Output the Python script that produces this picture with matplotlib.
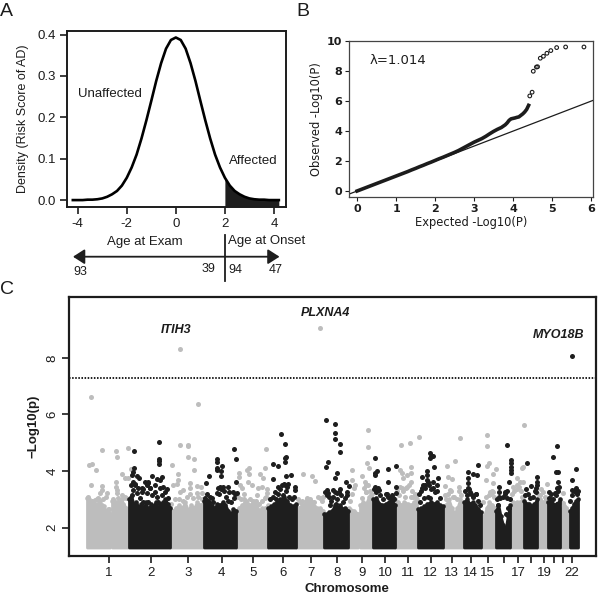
import numpy as np
import matplotlib
matplotlib.use('Agg')
import matplotlib.pyplot as plt

plt.rcParams['font.family'] = ['Liberation Sans', 'DejaVu Sans']
plt.rcParams['axes.unicode_minus'] = False

W, H = 600, 597
DARK = '#1c1c1c'
GREY = '#bdbdbd'
BLACK = '#1e1e1e'

# Panel A: density curve
risk_score = [-4.2, -4.0, -3.8, -3.6, -3.4, -3.2, -3.0, -2.8, -2.6, -2.4, -2.2, -2.0, -1.8, -1.6, -1.4, -1.2, -1.0,
              -0.8, -0.6, -0.4, -0.2, 0.0, 0.2, 0.4, 0.6, 0.8, 1.0, 1.2, 1.4, 1.6, 1.8, 2.0, 2.2, 2.4, 2.6, 2.8,
              3.0, 3.2, 3.4, 3.6, 3.8, 4.0, 4.2]
density = [0.000, 0.000, 0.000, 0.001, 0.001, 0.002, 0.004, 0.008, 0.014, 0.022, 0.035, 0.054, 0.079, 0.110, 0.149,
           0.193, 0.240, 0.288, 0.331, 0.366, 0.387, 0.393, 0.387, 0.366, 0.331, 0.288, 0.240, 0.193, 0.149, 0.110,
           0.079, 0.054, 0.035, 0.022, 0.014, 0.008, 0.004, 0.002, 0.001, 0.001, 0.000, 0.000, 0.000]

# Panel B: QQ plot
qq_expected = [0.0, 0.1, 0.2, 0.3, 0.4, 0.5, 0.6, 0.7, 0.8, 0.9, 1.0, 1.1, 1.2, 1.3, 1.4, 1.5, 1.6, 1.7, 1.8, 1.9,
               2.0, 2.1, 2.2, 2.3, 2.4, 2.5, 2.6, 2.7, 2.8, 2.9, 3.0, 3.1, 3.2, 3.3, 3.4, 3.5, 3.6, 3.7, 3.8, 3.85,
               3.9, 3.95, 4.0, 4.05, 4.1, 4.15, 4.2, 4.25, 4.3, 4.35, 4.4]
qq_observed = [0.0, 0.1, 0.2, 0.3, 0.4, 0.5, 0.6, 0.7, 0.8, 0.9, 1.0, 1.1, 1.2, 1.3, 1.41, 1.51, 1.62, 1.72, 1.83,
               1.93, 2.04, 2.15, 2.25, 2.36, 2.47, 2.58, 2.7, 2.84, 2.98, 3.12, 3.26, 3.38, 3.5, 3.65, 3.82, 3.98,
               4.12, 4.24, 4.42, 4.55, 4.72, 4.82, 4.85, 4.88, 4.92, 4.95, 5.05, 5.15, 5.28, 5.45, 5.72]
qq_top_expected = [4.43, 4.49, 4.52, 4.60, 4.63, 4.70, 4.78, 4.87, 4.97, 5.12, 5.35, 5.82]
qq_top_observed = [6.35, 6.60, 8.00, 8.28, 8.30, 8.87, 9.00, 9.20, 9.38, 9.58, 9.62, 9.62]

# Panel C: chromosome ticks
chrom_ticks = [108.7, 150.7, 188, 221.7, 252.7, 283, 311, 336.7, 361.7, 385, 407.7, 430.7, 451.7, 470.7, 487.7, 504,
               518, 531, 544, 554, 563, 572]
chrom_labels = ['1', '2', '3', '4', '5', '6', '7', '8', '9', '10', '11', '12', '13', '14', '15', '', '17', '', '19',
                '', '', '22']

# top of the solid mass for each chromosome: start, end, heights along it
grey_mass = [
    (87, 110, [3.05, 3.0, 2.85, 2.9, 2.8, 2.85, 2.95, 2.8, 2.75, 2.6, 2.65, 2.5]),
    (112, 128, [2.95, 2.95, 2.9, 2.9, 2.95, 2.85, 2.7, 2.6]),
    (170, 203, [2.7, 2.6, 2.7, 2.8, 2.7, 2.9, 2.6, 2.8, 2.7, 2.9, 2.8, 2.85]),
    (236, 268, [2.6, 2.7, 2.8, 2.9, 2.85, 2.8, 2.9, 2.8, 2.6, 2.7, 2.7, 2.8]),
    (296, 323, [2.8, 2.7, 2.8, 2.85, 2.9, 2.8, 2.75, 2.7, 2.7, 2.6]),
    (349, 358, [2.7, 2.6, 2.5]),
    (360, 372, [2.8, 2.9, 2.85, 3.1, 3.2]),
    (395, 417, [3.0, 2.9, 2.8, 2.9, 2.85, 2.8, 2.9, 3.0]),
    (443, 463, [2.7, 2.8, 3.0, 2.7, 2.5, 2.7, 3.0, 2.6]),
    (481, 495, [2.2, 2.4, 2.7, 2.9, 2.8, 2.7]),
    (510, 523, [2.6, 2.9, 2.9, 2.9, 3.0]),
    (537, 547, [2.8, 3.0, 2.9, 2.8]),
    (560, 568, [2.6, 2.7, 2.5, 2.5]),
]
black_mass = [
    (129, 170, [3.0, 3.1, 2.8, 2.9, 2.7, 2.85, 2.7, 2.9, 2.6, 2.85, 2.75, 2.9, 2.7, 2.85, 2.9, 3.0, 2.85, 2.7]),
    (204, 236, [2.95, 2.95, 2.9, 2.75, 2.7, 2.85, 2.8, 2.9, 2.8, 2.6, 2.5, 2.65, 2.6]),
    (268, 296, [2.7, 2.75, 2.85, 2.9, 3.0, 3.1, 2.95, 2.8, 2.75, 2.85]),
    (324, 348, [2.5, 2.5, 2.55, 2.6, 2.8, 2.7, 2.8, 2.65, 2.7, 2.6]),
    (373, 395, [3.0, 3.05, 2.85, 2.8, 2.85, 2.9, 2.95, 2.8]),
    (418, 443, [2.65, 2.7, 2.75, 2.85, 2.9, 2.85, 2.9, 2.8, 2.75]),
    (464, 481, [2.9, 3.0, 2.85, 2.9, 2.8, 2.65, 2.55]),
    (496, 510, [2.6, 2.8, 2.4, 2.1, 1.9, 2.4, 2.8]),
    (524, 537, [2.95, 2.85, 2.85, 2.75, 2.85, 3.0]),
    (548, 560, [2.9, 3.0, 2.8, 2.85, 3.0]),
    (570, 578, [2.6, 2.7, 2.85, 2.95, 3.0]),
]

# separate points above the mass
grey_x = [91, 89.3, 92.3, 96, 91, 101.7, 115.7, 116.7, 128, 121.7, 125, 128.3, 131, 115.7, 115.7, 116.7, 101.7, 101.7,
          107.3, 100, 98.3, 95, 125, 121.7, 117.3,
          180.3, 197.7, 180.3, 188, 188, 188, 194.3, 172, 177.7, 194.3, 177.7, 176.7, 173.3, 183.3, 190, 190, 197.3,
          201, 196.7, 201.7,
          239.3, 239.3, 247.3, 249, 249, 248, 252, 240, 242, 260, 263, 265, 265.7, 257, 244, 258, 262, 267, 267, 265,
          320, 303.3, 311.7, 315, 323, 320, 307, 312,
          351.7, 351.7, 355, 362.3, 366.7, 369, 365, 368.3, 365.7, 368.3, 368.3, 365.7,
          401, 409.7, 419, 400, 401.7, 403.3, 410.7, 410.7, 406.7, 410.7, 406.7, 401.7, 413.3,
          447, 455, 460, 448.3, 451.7, 445, 450, 459, 453,
          487, 487, 489, 486.7, 495.7, 493, 486, 492.7, 490, 493.3,
          523.7, 523.3, 522.3, 517.3, 520, 516.7, 523.3, 513.3,
          547.3, 540.7, 563.3, 563.3]
grey_p = [6.63, 4.22, 4.26, 4.04, 3.51, 4.76, 4.71, 4.51, 4.83, 3.9, 3.77, 3.75, 4.06, 3.63, 3.45, 3.33, 3.47, 3.33,
          3.21, 3.21, 3.04, 2.98, 3.1, 3.16, 3.21,
          8.33, 6.38, 4.91, 4.92, 4.88, 4.51, 4.43, 4.22, 3.91, 4.04, 3.69, 3.53, 3.51, 3.33, 3.57, 3.39, 3.47, 3.45,
          3.21, 3.21,
          3.92, 3.8, 4.04, 4.12, 3.89, 3.63, 3.51, 3.51, 3.39, 3.9, 3.75, 4.12, 4.79, 3.16, 3.2, 3.39, 3.45, 3.37,
          3.21, 3.04,
          9.04, 3.9, 3.84, 3.66, 3.1, 3.04, 3.04, 2.9,
          4.04, 3.69, 3.51, 3.82, 4.28, 4.12, 3.63, 3.51, 3.27, 5.46, 4.84, 3.27,
          4.92, 5.0, 5.2, 4.04, 3.92, 3.75, 4.16, 3.92, 3.86, 3.63, 3.45, 3.39, 3.1,
          4.18, 4.35, 5.18, 3.78, 3.72, 3.47, 3.33, 3.45, 3.1,
          5.27, 4.87, 4.28, 4.18, 4.08, 3.9, 3.67, 3.58, 3.27, 3.27,
          5.62, 4.16, 4.12, 3.75, 3.63, 3.51, 3.63, 3.45,
          3.55, 3.37, 3.21, 2.86]
black_x = [134.3, 159, 159, 159, 159, 134.3, 133.3, 132.3, 136.7, 139.3, 151.7, 162.3, 160, 156.7, 148.3, 146.7, 141.7,
           135, 133, 143, 150, 155,
           205.7, 208.7, 217.3, 217.3, 216.7, 216.7, 222, 220.7, 220.7, 234, 236.3, 236, 220, 223.3, 228.3, 216.7,
           233.3, 236.7,
           281, 285, 285.7, 285, 285, 272.7, 277.7, 272.7, 285.7, 291, 277.7, 295, 295, 288.3, 285,
           326, 335, 335, 335, 340, 340, 328.3, 326, 337.3, 335, 345.7, 349, 333.3, 340, 346.7, 326.7, 328.3, 336.7,
           374.7, 376.7, 374.7, 374.7, 388.3, 396.3, 388.3, 395.7, 375, 379.3, 395.7, 387.3, 393.3,
           430, 430, 433.3, 430.7, 434.3, 426.7, 426.7, 421.7, 438.3, 428.3, 425, 436.7, 433.3, 421.7,
           468, 473.3, 476.7, 478, 468, 468, 468, 470, 476,
           506.7, 510.7, 510.7, 510.7, 510.7, 510.7, 509, 499, 499, 505, 500, 506.7,
           526.7, 526.3, 531, 536.7, 536.7, 536.7, 536,
           557.3, 553, 555.7, 558.3, 558.3, 556.7, 549.3, 555,
           572, 576, 572.3, 571.7, 575, 576.7]
black_p = [4.71, 5.03, 4.43, 4.34, 4.25, 4.1, 3.98, 3.86, 3.82, 3.75, 3.83, 3.8, 3.69, 3.72, 3.63, 3.51, 3.39, 3.51,
           3.63, 3.35, 3.4, 3.5,
           3.59, 3.84, 4.43, 4.33, 4.12, 4.03, 4.18, 4.0, 3.83, 4.79, 4.41, 3.63, 3.45, 3.45, 3.45, 3.21, 3.27, 3.21,
           5.31, 4.96, 4.5, 4.47, 4.31, 4.25, 4.18, 3.73, 3.84, 3.85, 3.45, 3.45, 3.33, 3.55, 3.51,
           5.81, 5.66, 5.36, 5.13, 4.94, 4.67, 4.33, 4.15, 3.92, 3.77, 3.62, 3.47, 3.33, 3.37, 3.27, 3.33, 3.21, 3.21,
           4.46, 4.0, 3.92, 3.86, 4.09, 4.17, 3.63, 3.43, 3.45, 3.33, 3.21, 3.18, 3.04,
           4.63, 4.45, 4.55, 4.55, 4.13, 4.0, 3.86, 3.78, 3.74, 3.63, 3.51, 3.51, 3.39, 3.39,
           3.98, 3.91, 3.86, 4.23, 3.75, 3.57, 3.39, 3.27, 3.18,
           4.91, 4.39, 4.27, 4.15, 4.04, 3.92, 3.63, 3.43, 3.27, 3.27, 3.04, 3.04,
           4.29, 3.37, 3.46, 3.8, 3.63, 3.51, 3.27,
           4.87, 4.51, 3.98, 3.98, 3.63, 3.39, 3.27, 3.21,
           8.05, 4.09, 3.7, 3.33, 3.33, 3.21]

# the clumps of points just over the mass
black_cloud = [
    (130.7, 3.51), (135, 3.55), (133.3, 3.33), (138.3, 3.39), (131.7, 3.16), (136.7, 3.21), (141.7, 3.27), (145, 3.63),
    (148.3, 3.57), (150, 3.39), (146.7, 3.21), (151.7, 3.16), (155, 3.27), (156.7, 3.1), (160, 3.39), (163.3, 3.45),
    (166.7, 3.37), (165, 3.27), (161.7, 3.16), (168.3, 3.04), (130, 3.0), (140, 3.04), (143.3, 2.92), (148.3, 2.92),
    (158.3, 2.92), (165, 2.86),
    (207, 3.2), (210, 3.1), (212, 3.05), (205, 3.05), (208, 2.95), (218, 3.4), (221, 3.35), (219, 3.2), (224, 3.3),
    (226, 3.1), (229, 3.25), (231, 2.9), (234, 3.05), (235, 3.2), (213, 2.9), (228, 2.95),
    (270, 3.0), (273, 3.1), (275, 3.25), (278, 3.2), (280, 3.35), (282, 3.5), (284, 3.55), (287, 3.45), (286, 3.3),
    (289, 3.1), (292, 3.0), (294, 3.1), (276, 3.0), (283, 3.15),
    (325, 3.25), (327, 3.15), (329, 3.1), (331, 2.95), (333, 3.1), (335, 3.25), (337, 3.0), (339, 3.25), (341, 3.15),
    (343, 2.9), (345, 3.05), (347, 3.15), (336, 2.85), (330, 2.8),
    (374, 3.35), (376, 3.25), (378, 3.4), (380, 3.15), (383, 3.0), (386, 3.2), (388, 3.1), (390, 3.05), (392, 3.15),
    (394, 3.0),
    (419, 3.2), (421, 3.3), (423, 3.5), (425, 3.4), (427, 3.7), (429, 3.5), (431, 3.35), (433, 3.6), (435, 3.25),
    (437, 3.3), (440, 3.05), (424, 3.05), (428, 3.1), (420, 2.9), (430, 3.05),
    (465, 3.3), (467, 3.15), (469, 3.35), (471, 3.2), (473, 3.1), (476, 3.2), (478, 2.95), (480, 2.8),
    (497, 3.0), (499, 3.1), (503, 3.1), (505, 3.2), (507, 3.3), (510, 3.0), (508, 2.7), (506, 2.5), (498, 2.8),
    (525, 3.15), (528, 3.2), (530, 3.05), (533, 3.1), (535, 3.3), (536, 3.4),
    (549, 3.05), (551, 3.2), (553, 3.0), (556, 3.15), (558, 3.3), (559, 3.45), (557, 2.85),
    (570, 2.95), (572, 3.15), (574, 3.3), (576, 3.4), (577, 3.2), (578, 3.3),
]
grey_cloud = [
    (88, 3.1), (92, 2.95), (97, 3.0), (103, 3.0), (106, 3.1), (109, 2.65), (113, 3.0), (118, 3.05), (122, 3.0),
    (126, 3.05),
    (171, 2.85), (175, 3.0), (179, 3.0), (183, 2.95), (187, 3.1), (190, 3.2), (193, 3.05), (198, 3.1), (202, 3.0),
    (180, 3.25),
    (238, 3.1), (241, 3.0), (244, 3.0), (246, 2.95), (250, 3.0), (253, 2.95), (256, 2.95), (259, 2.85), (262, 2.95),
    (266, 3.1),
    (298, 3.0), (302, 2.95), (306, 2.95), (310, 3.0), (314, 2.9), (318, 3.1), (322, 2.95), (300, 2.9),
    (350, 2.95), (352, 3.2), (354, 3.4), (362, 3.05), (364, 3.4), (366, 3.5), (370, 3.3), (371, 3.15),
    (397, 3.3), (400, 3.45), (403, 3.3), (406, 3.4), (409, 3.5), (412, 3.3), (415, 3.2), (399, 3.15), (405, 3.1),
    (411, 3.1), (416, 3.05),
    (445, 3.15), (448, 3.2), (451, 3.3), (454, 3.1), (457, 3.0), (459, 3.3), (461, 3.15), (446, 3.0),
    (483, 2.9), (486, 3.1), (489, 3.15), (491, 3.2), (494, 3.1), (492, 3.3),
    (512, 3.2), (514, 3.3), (517, 3.35), (519, 3.45), (521, 3.3), (522, 3.1),
    (538, 3.2), (540, 3.15), (543, 3.25), (545, 3.1), (546, 3.0),
    (561, 2.9), (564, 2.75), (566, 2.7), (567, 2.6),
]
threshold = 7.3
mass_floor = 1.3


def place(fig, left, top, right, bottom):
    # axes box given in picture pixels
    return fig.add_axes([left / W, 1 - bottom / H, (right - left) / W, (bottom - top) / H])


fig = plt.figure(figsize=(W / 100, H / 100), dpi=100)

# Panel A
ax_a = place(fig, 66.7, 31.3, 285.7, 206.7)
ax_a.plot(risk_score, density, color='black', lw=1.9, solid_joinstyle='round')
x_a = np.array(risk_score)
y_a = np.array(density)
tail = x_a >= 2
ax_a.fill_between(x_a[tail], -0.016, y_a[tail] + 0.001, color=BLACK, lw=0)
ax_a.set_xlim(-4.45, 4.48)
ax_a.set_ylim(-0.016, 0.408)
ax_a.set_xticks([-4, -2, 0, 2, 4])
ax_a.set_yticks([0.0, 0.1, 0.2, 0.3, 0.4])
ax_a.set_yticklabels(['0.0', '0.1', '0.2', '0.3', '0.4'])
ax_a.tick_params(labelsize=9.5, width=1.2, length=5, color=DARK, labelcolor=DARK, pad=3)
ax_a.set_ylabel('Density (Risk Score of AD)', fontsize=9, color=DARK, labelpad=6)
for s in ax_a.spines.values():
    s.set_linewidth(1.4)
    s.set_color(DARK)

# Panel B
ax_b = place(fig, 349.3, 41.3, 593.3, 196.7)
ax_b.plot([-0.2, 6.06], [-0.2, 6.06], color=DARK, lw=0.9)
ax_b.plot(qq_expected, qq_observed, color=DARK, lw=2.6)
ax_b.scatter(qq_top_expected, qq_top_observed, s=7, facecolors='none', edgecolors=DARK, linewidths=0.8)
ax_b.set_xlim(-0.2, 6.06)
ax_b.set_ylim(-0.38, 10)
ax_b.set_xticks([0, 1, 2, 3, 4, 5, 6])
ax_b.set_xticklabels(['0', '1', '2', '3', '4', '5', '6'], family=['DejaVu Sans'], fontweight='bold')
ax_b.set_yticks([0, 2, 4, 6, 8, 10])
ax_b.set_yticklabels(['0', '2', '4', '6', '8', '10'], family=['DejaVu Sans'], fontweight='bold')
ax_b.tick_params(labelsize=8, width=0.8, length=3, color=DARK, labelcolor=DARK, pad=2)
ax_b.set_xlabel('Expected -Log10(P)', fontsize=8.3, color=DARK, family=['DejaVu Sans'], labelpad=2)
ax_b.set_ylabel('Observed -Log10(P)', fontsize=8.3, color=DARK, family=['DejaVu Sans'], labelpad=3)
ax_b.text(0.31, 8.75, '\u03bb=1.014', fontsize=9.5, color=DARK, family=['DejaVu Sans'], va='center')
for s in ax_b.spines.values():
    s.set_linewidth(0.9)
    s.set_color('#444444')

# Panel C
ax_c = place(fig, 68.5, 297.3, 595.5, 556)
for colour, level, masses in [(GREY, 2, grey_mass), (BLACK, 3, black_mass)]:
    for start, end, tops in masses:
        xs = np.linspace(start, end, len(tops))
        ax_c.fill_between(xs, mass_floor, tops, color=colour, lw=2, joinstyle='round', zorder=level)
        ax_c.scatter(xs, tops, s=11, color=colour, lw=0, zorder=level)
ax_c.scatter(grey_x, grey_p, s=13, color=GREY, lw=0, zorder=2)
ax_c.scatter(black_x, black_p, s=13, color=BLACK, lw=0, zorder=3)
ax_c.scatter(*zip(*grey_cloud), s=13, color=GREY, lw=0, zorder=2)
ax_c.scatter(*zip(*black_cloud), s=13, color=BLACK, lw=0, zorder=3)
ax_c.axhline(threshold, color=BLACK, lw=1.4, ls=(0, (0.8, 0.8)), zorder=4)
ax_c.set_xlim(68.5, 595.5)
ax_c.set_ylim(1.0, 10.14)
ax_c.set_xticks(chrom_ticks)
ax_c.set_xticklabels(chrom_labels)
ax_c.set_yticks([2, 4, 6, 8])
ax_c.set_yticklabels(['2', '4', '6', '8'], rotation=90, va='center')
ax_c.tick_params(labelsize=9.5, width=1.2, length=5, color=DARK, labelcolor=DARK, pad=3)
ax_c.tick_params(axis='y', pad=2)
for s in ax_c.spines.values():
    s.set_linewidth(1.6)
    s.set_color(DARK)
ax_c.set_ylabel('\u2212Log10(p)', fontsize=9.5, fontweight='bold', color=DARK, labelpad=5)
ax_c.text(176, 8.99, 'ITIH3', fontsize=9, fontweight='bold', style='italic', color=DARK, ha='center', va='center')
ax_c.text(325.5, 9.6, 'PLXNA4', fontsize=9, fontweight='bold', style='italic', color=DARK, ha='center', va='center')
ax_c.text(559, 8.8, 'MYO18B', fontsize=9, fontweight='bold', style='italic', color=DARK, ha='center', va='center')

# overlay in picture pixels for the panel letters and the age arrows
over = fig.add_axes([0, 0, 1, 1], facecolor='none')
over.set_xlim(0, W)
over.set_ylim(H, 0)
over.axis('off')
over.text(0, 11, 'A', fontsize=14, color=DARK, va='center')
over.text(296, 11, 'B', fontsize=14, color=DARK, va='center')
over.text(0, 290, 'C', fontsize=14, color=DARK, va='center')
over.text(110, 94, 'Unaffected', fontsize=9.5, color=DARK, ha='center', va='center')
over.text(253, 161, 'Affected', fontsize=9.5, color=DARK, ha='center', va='center')
over.text(145, 242, 'Age at Exam', fontsize=9.5, color=DARK, ha='center', va='center')
over.text(267, 241, 'Age at Onset', fontsize=9.5, color=DARK, ha='center', va='center')
over.text(80, 272, '93', fontsize=9, color=DARK, ha='center', va='center')
over.text(208, 269, '39', fontsize=9, color=DARK, ha='center', va='center')
over.text(235, 270, '94', fontsize=9, color=DARK, ha='center', va='center')
over.text(276, 270, '47', fontsize=9, color=DARK, ha='center', va='center')
over.text(347, 589, 'Chromosome', fontsize=9.5, fontweight='bold', color=DARK, ha='center', va='center')
over.annotate('', xy=(73, 256.7), xytext=(225, 256.7),
              arrowprops=dict(arrowstyle='-|>,head_width=0.45,head_length=0.7', color=BLACK, lw=1.3,
                              shrinkA=0, shrinkB=0))
over.annotate('', xy=(279.5, 256.7), xytext=(225, 256.7),
              arrowprops=dict(arrowstyle='-|>,head_width=0.45,head_length=0.7', color=BLACK, lw=1.3,
                              shrinkA=0, shrinkB=0))
over.plot([225, 225], [235, 281], color=BLACK, lw=1.3)

fig.savefig('out.png', dpi=100)
